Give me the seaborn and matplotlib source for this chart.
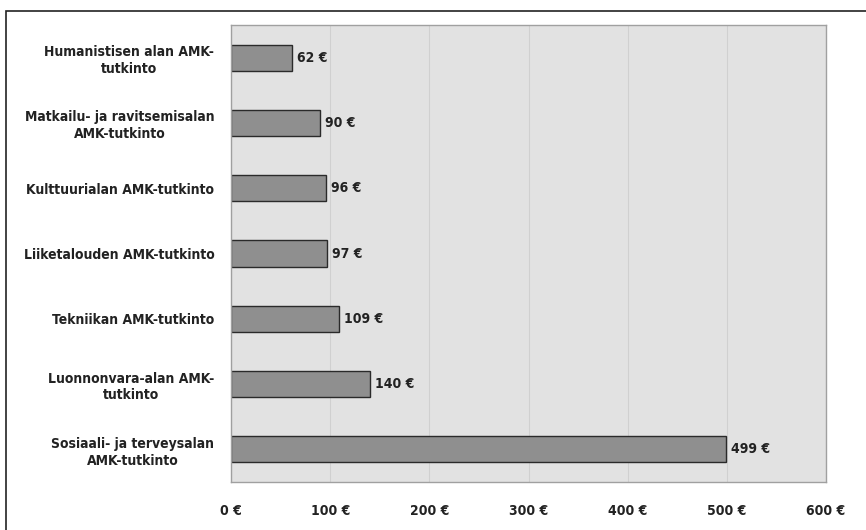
import matplotlib
matplotlib.use("Agg")
import numpy as np
import pandas as pd
import seaborn as sns
from matplotlib import pyplot as plt
from matplotlib.patches import Rectangle

sns.set_theme(style="white")
plt.rcParams['font.family'] = ['DejaVu Sans']
plt.rcParams['font.stretch'] = 'condensed'

categories = ["Humanistisen alan AMK-\ntutkinto",
              "Matkailu- ja ravitsemisalan\nAMK-tutkinto",
              "Kulttuurialan AMK-tutkinto",
              "Liiketalouden AMK-tutkinto",
              "Tekniikan AMK-tutkinto",
              "Luonnonvara-alan AMK-\ntutkinto",
              "Sosiaali- ja terveysalan\nAMK-tutkinto"]
values = [62, 90, 96, 97, 109, 140, 499]
xticks = [0, 100, 200, 300, 400, 500, 600]

df = pd.DataFrame({"Koulutus": categories, "Euroa": values})

fs = 10

fig = plt.figure(figsize=(8.66, 5.30), dpi=100)
ax = fig.add_axes([231/866, 1-482/530, (826-231)/866, (482-25)/530])
ax.set_facecolor("#e2e2e2")

sns.barplot(data=df, x="Euroa", y="Koulutus", ax=ax, color="#8f8f8f",
            edgecolor="#2a2a2a", linewidth=1.0, width=0.4, saturation=1)

for i, v in enumerate(values):
    ax.text(v + 5, i, f"{v} €", va="center", ha="left", fontsize=fs, fontweight="bold",
            color="#222222", fontstretch="condensed")

ax.set_xlim(0, 600)
ax.set_ylim(6.5, -0.5)
ax.set_xticks(xticks)
ax.set_xticklabels([f"{t} €" for t in xticks], fontsize=fs, fontweight="bold", color="#222222",
                   fontstretch="condensed")
ax.set_yticks(range(len(categories)))
ax.set_yticklabels(categories, fontsize=fs, fontweight="bold", color="#222222", linespacing=1.25,
                   multialignment="center", fontstretch="condensed")
ax.tick_params(axis="x", length=0, pad=16)
ax.tick_params(axis="y", length=0, pad=12)
ax.set_xlabel("")
ax.set_ylabel("")
ax.xaxis.grid(True, color="#d0d0d0", linewidth=0.8)
ax.set_axisbelow(True)
for s in ax.spines.values():
    s.set_color("#a0a0a0")
    s.set_linewidth(1.0)

# outer frame, clipped at right and bottom edges
fig.patches.append(Rectangle((6/866, -0.05), 1.0, 1 - 11/530 + 0.05, transform=fig.transFigure,
                             fill=False, edgecolor="#222222", linewidth=1.2))

fig.savefig("out.png", dpi=100)
